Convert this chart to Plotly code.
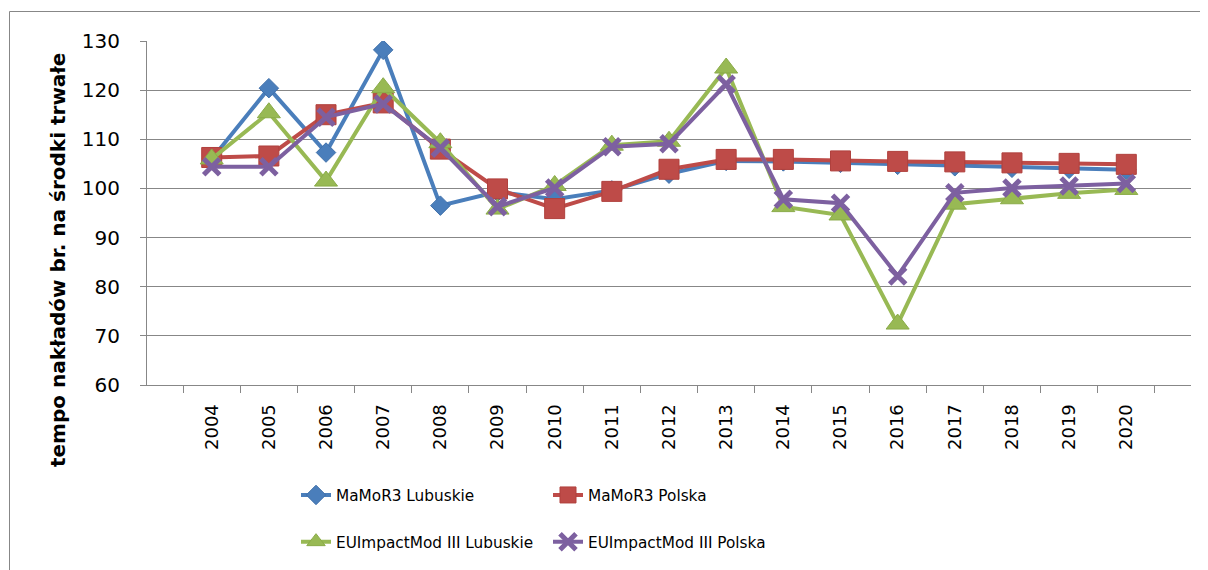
import plotly.graph_objects as go

years = [str(y) for y in range(2004, 2021)]
mamor_lub = [106.0, 120.4, 107.3, 128.2, 96.5, 99.3, 97.8, 99.6, 103.0, 105.6, 105.5, 105.2, 104.8, 104.5, 104.2, 104.0, 103.8]
mamor_pl = [106.3, 106.6, 115.0, 117.4, 108.0, 99.9, 95.9, 99.4, 103.9, 105.9, 105.9, 105.6, 105.5, 105.4, 105.2, 105.1, 104.9]
eu_lub = [106.0, 115.4, 101.5, 120.5, 109.3, 95.8, 100.6, 108.8, 109.6, 124.5, 96.3, 94.6, 72.4, 96.8, 97.9, 99.0, 99.8]
eu_pl = [104.4, 104.4, 114.5, 117.2, 108.2, 96.3, 100.1, 108.5, 109.1, 121.2, 97.8, 97.0, 82.2, 99.1, 100.1, 100.5, 101.0]

names = ["MaMoR3 Lubuskie", "MaMoR3 Polska", "EUImpactMod III Lubuskie", "EUImpactMod III Polska"]
y_title = "tempo nakładów br. na środki trwałe"

FONT = "DejaVu Sans"
GRID = "#878787"
OFF = 8  # page body margin
W, H = 1208 - OFF, 570 - OFF
L, R, T = 147 - OFF, 17, 41 - OFF
B = H - (385 - OFF)
plot_w = W - L - R
plot_h = H - T - B


def px_x(sx):
    return (sx - OFF - L) / plot_w


def px_y(sy):
    return (H - B - (sy - OFF)) / plot_h


fig = go.Figure()
fig.add_trace(go.Scatter(
    x=years, y=mamor_lub, mode="lines+markers", name=names[0], legend="legend",
    line=dict(color="#4A7EBB", width=4),
    marker=dict(symbol="diamond", size=15, color="#4A7EBB", line=dict(width=1, color="#3F70AA"))))
fig.add_trace(go.Scatter(
    x=years, y=mamor_pl, mode="lines+markers", name=names[1], legend="legend2",
    line=dict(color="#BE4B48", width=4),
    marker=dict(symbol="square", size=20, color="#BE4B48", line=dict(width=1, color="#B0403D"))))
fig.add_trace(go.Scatter(
    x=years, y=eu_lub, mode="lines+markers", name=names[2], legend="legend3",
    line=dict(color="#98B954", width=4),
    marker=dict(symbol="triangle-up", size=20, color="#98B954", line=dict(width=1, color="#8AAB48"))))
fig.add_trace(go.Scatter(
    x=years, y=eu_pl, mode="lines+markers", name=names[3], legend="legend4",
    line=dict(color="#7D60A0", width=4),
    marker=dict(symbol="x-thin-open", size=16, color="#7D60A0", line=dict(width=5))))


def leg(sx, sy):
    return dict(x=(sx - OFF) / W, y=1 - (sy - OFF) / H, xref="container", yref="container",
                xanchor="left", yanchor="middle", orientation="h",
                bgcolor="rgba(0,0,0,0)", borderwidth=0,
                font=dict(family=FONT, size=15.3, color="black"), itemwidth=30)


fig.update_layout(
    width=W, height=H,
    margin=dict(l=L, r=R, t=T, b=B, pad=0),
    paper_bgcolor="white", plot_bgcolor="white",
    showlegend=True,
    legend=leg(296, 495), legend2=leg(548, 495),
    legend3=leg(296, 541.7), legend4=leg(548, 541.7),
    xaxis=dict(type="category", showgrid=False, showline=True, linecolor=GRID, linewidth=1,
               ticks="outside", tickson="boundaries", ticklen=7, tickcolor=GRID, tickwidth=1,
               tickangle=-90, tickfont=dict(family=FONT, size=18, color="black"),
               ticklabelstandoff=11, zeroline=False),
    yaxis=dict(range=[60, 130], dtick=10, showgrid=True, gridcolor=GRID, gridwidth=1,
               showline=True, linecolor=GRID, linewidth=1, ticks="outside", ticklen=6,
               tickcolor=GRID, tickfont=dict(family=FONT, size=20, color="black"),
               ticklabelstandoff=16, zeroline=False),
    shapes=[dict(type="rect", xref="paper", yref="paper", layer="below",
                 x0=px_x(9.5), x1=px_x(1220), y0=px_y(580), y1=px_y(11.5),
                 line=dict(color=GRID, width=1), fillcolor="rgba(0,0,0,0)")],
    annotations=[dict(text="<b>" + y_title + "</b>", xref="paper", yref="paper",
                      x=px_x(58), y=px_y(260), textangle=-90,
                      showarrow=False, xanchor="center", yanchor="middle",
                      font=dict(family=FONT, size=20, color="black"))],
)

fig.write_html("out.html")
